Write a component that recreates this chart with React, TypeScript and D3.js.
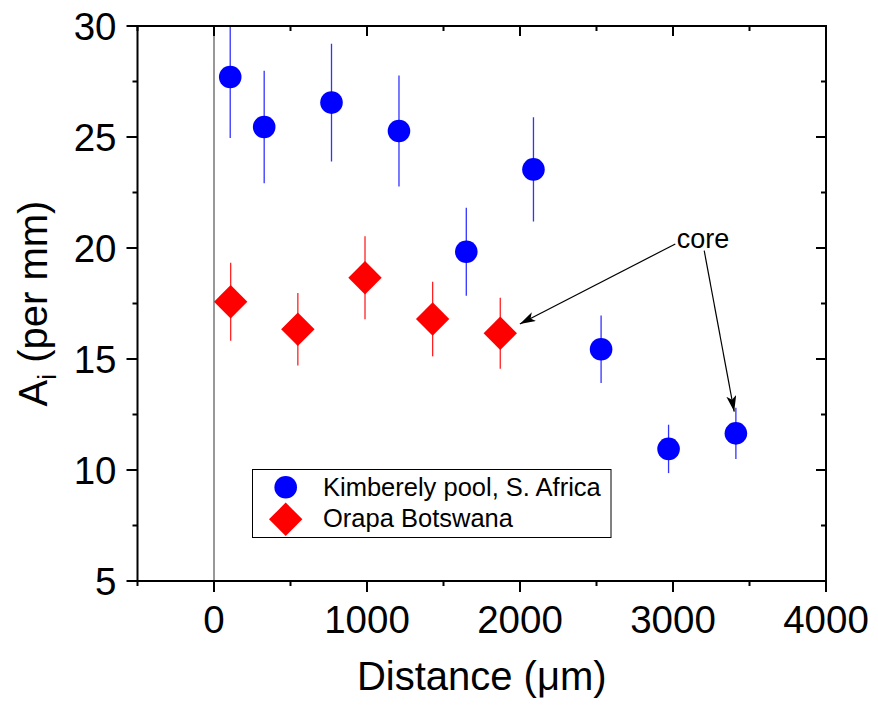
import React, { useEffect, useRef } from 'react';
import * as d3 from 'd3';

// distance (um), A_i (per mm), error
const kimX = [106, 328, 768, 1209, 1649, 2088, 2530, 2971, 3411];
const kimY = [27.7, 25.45, 26.55, 25.27, 19.83, 23.54, 15.44, 10.95, 11.65];
const kimErr = [2.75, 2.53, 2.65, 2.5, 1.98, 2.35, 1.52, 1.09, 1.15];

const oraX = [109, 548, 987, 1429, 1871];
const oraY = [17.58, 16.34, 18.66, 16.8, 16.16];
const oraErr = [1.76, 1.63, 1.87, 1.68, 1.6];

const xTicks = [0, 1000, 2000, 3000, 4000];
const yTicks = [5, 10, 15, 20, 25, 30];

// "core" annotation: label anchor and arrow ends, in data units
const coreLabel = { x: 3025, y: 20.0 };
const coreArrows = [
  { x1: 3015, y1: 20.18, x2: 1999, y2: 16.58 },
  { x1: 3204, y1: 19.88, x2: 3400, y2: 12.63 },
];

const FONT = "'Liberation Sans', Arial, Helvetica, sans-serif";

const App = () => {
  const svgRef = useRef<SVGSVGElement>(null);

  useEffect(() => {
    const width = 878;
    const height = 705;
    const margin = { top: 26, right: 52, bottom: 124, left: 137.5 };
    const svg = d3.select(svgRef.current);
    svg.selectAll('*').remove();
    svg.attr('width', width).attr('height', height);

    const x = d3.scaleLinear().domain([-500, 4000]).range([margin.left, width - margin.right]);
    const y = d3.scaleLinear().domain([5, 30]).range([height - margin.bottom, margin.top]);
    const [x0, x1] = x.range();
    const [yb, yt] = y.range();

    svg.append('defs').append('clipPath').attr('id', 'plotclip')
      .append('rect').attr('x', x0).attr('y', yt).attr('width', x1 - x0).attr('height', yb - yt);
    svg.select('defs').append('marker')
      .attr('id', 'arrowhead')
      .attr('viewBox', '0 0 16 10')
      .attr('refX', 16).attr('refY', 5)
      .attr('markerWidth', 16).attr('markerHeight', 10)
      .attr('markerUnits', 'userSpaceOnUse')
      .attr('orient', 'auto')
      .append('path').attr('d', 'M0,0 L16,5 L0,10 L4,5 Z').attr('fill', '#000');

    const plot = svg.append('g').attr('clip-path', 'url(#plotclip)');

    // zero line
    plot.append('line')
      .attr('x1', x(0)).attr('x2', x(0)).attr('y1', yt).attr('y2', yb)
      .attr('stroke', '#333').attr('stroke-width', 1);

    // error bars
    const kim = kimX.map((d, i) => ({ x: d, y: kimY[i], e: kimErr[i] }));
    const ora = oraX.map((d, i) => ({ x: d, y: oraY[i], e: oraErr[i] }));

    plot.selectAll('.kerr').data(kim).enter().append('line')
      .attr('x1', d => x(d.x)).attr('x2', d => x(d.x))
      .attr('y1', d => y(d.y + d.e)).attr('y2', d => y(d.y - d.e))
      .attr('stroke', '#3333ff').attr('stroke-width', 1.3);
    plot.selectAll('.oerr').data(ora).enter().append('line')
      .attr('x1', d => x(d.x)).attr('x2', d => x(d.x))
      .attr('y1', d => y(d.y + d.e)).attr('y2', d => y(d.y - d.e))
      .attr('stroke', '#ff2222').attr('stroke-width', 1.3);

    const diamond = d3.symbol().type(d3.symbolSquare).size(557);

    plot.selectAll('.kdot').data(kim).enter().append('circle')
      .attr('cx', d => x(d.x)).attr('cy', d => y(d.y)).attr('r', 11.3)
      .attr('fill', '#0000ff');
    plot.selectAll('.odot').data(ora).enter().append('path')
      .attr('d', diamond())
      .attr('transform', d => `translate(${x(d.x)},${y(d.y)}) rotate(45)`)
      .attr('fill', '#ff0000');

    // frame
    svg.append('rect')
      .attr('x', x0).attr('y', yt).attr('width', x1 - x0).attr('height', yb - yt)
      .attr('fill', 'none').attr('stroke', '#000').attr('stroke-width', 2);

    const ticks = svg.append('g').attr('stroke', '#000').attr('stroke-width', 2);
    const xMinor = d3.range(-500, 4001, 500).filter(v => !xTicks.includes(v));
    const yMinor = d3.range(7.5, 30, 5);

    // bottom (outward) and top (inward)
    xTicks.forEach(v => {
      ticks.append('line').attr('x1', x(v)).attr('x2', x(v)).attr('y1', yb).attr('y2', yb + 11);
      ticks.append('line').attr('x1', x(v)).attr('x2', x(v)).attr('y1', yt).attr('y2', yt + 10);
    });
    xMinor.forEach(v => {
      ticks.append('line').attr('x1', x(v)).attr('x2', x(v)).attr('y1', yb).attr('y2', yb + 5);
      ticks.append('line').attr('x1', x(v)).attr('x2', x(v)).attr('y1', yt).attr('y2', yt + 5);
    });
    // left (outward) and right (inward)
    yTicks.forEach(v => {
      ticks.append('line').attr('y1', y(v)).attr('y2', y(v)).attr('x1', x0).attr('x2', x0 - 11);
      ticks.append('line').attr('y1', y(v)).attr('y2', y(v)).attr('x1', x1).attr('x2', x1 - 10);
    });
    yMinor.forEach(v => {
      ticks.append('line').attr('y1', y(v)).attr('y2', y(v)).attr('x1', x0).attr('x2', x0 - 5);
      ticks.append('line').attr('y1', y(v)).attr('y2', y(v)).attr('x1', x1).attr('x2', x1 - 5);
    });

    // tick labels
    svg.selectAll('.xl').data(xTicks).enter().append('text')
      .attr('x', d => x(d)).attr('y', yb + 52)
      .attr('text-anchor', 'middle')
      .style('font-family', FONT).style('font-size', '38.5px')
      .text(d => String(d));
    svg.selectAll('.yl').data(yTicks).enter().append('text')
      .attr('x', x0 - 21).attr('y', d => y(d) + 14)
      .attr('text-anchor', 'end')
      .style('font-family', FONT).style('font-size', '38.5px')
      .text(d => String(d));

    // axis titles
    svg.append('text')
      .attr('x', (x0 + x1) / 2).attr('y', 690)
      .attr('text-anchor', 'middle')
      .style('font-family', FONT).style('font-size', '40px')
      .text('Distance (\u03bcm)');

    const yl = svg.append('text')
      .attr('transform', `translate(47,${(yt + yb) / 2}) rotate(-90)`)
      .attr('text-anchor', 'middle')
      .style('font-family', FONT).style('font-size', '40px');
    yl.append('tspan').text('A');
    yl.append('tspan').attr('dy', 9).style('font-size', '26px').text('i');
    yl.append('tspan').attr('dy', -9).text(' (per mm)');

    // core annotation
    svg.selectAll('.arr').data(coreArrows).enter().append('line')
      .attr('x1', d => x(d.x1)).attr('y1', d => y(d.y1))
      .attr('x2', d => x(d.x2)).attr('y2', d => y(d.y2))
      .attr('stroke', '#000').attr('stroke-width', 1.2)
      .attr('marker-end', 'url(#arrowhead)');
    svg.append('text')
      .attr('x', x(coreLabel.x)).attr('y', y(coreLabel.y))
      .style('font-family', FONT).style('font-size', '27px')
      .text('core');

    // legend
    const lg = svg.append('g');
    lg.append('rect')
      .attr('x', 252.5).attr('y', 469.5).attr('width', 358.5).attr('height', 68)
      .attr('fill', '#fff').attr('stroke', '#000').attr('stroke-width', 1);
    lg.append('circle').attr('cx', 285.7).attr('cy', 487.3).attr('r', 11.3).attr('fill', '#0000ff');
    lg.append('path').attr('d', diamond())
      .attr('transform', 'translate(285.7,519.3) rotate(45)').attr('fill', '#ff0000');
    lg.append('text').attr('x', 323).attr('y', 496)
      .style('font-family', FONT).style('font-size', '25.5px')
      .text('Kimberely pool, S. Africa');
    lg.append('text').attr('x', 323).attr('y', 527)
      .style('font-family', FONT).style('font-size', '25.5px')
      .text('Orapa Botswana');
  }, []);

  return (
    <div>
      <svg ref={svgRef} style={{ position: 'absolute', left: 0, top: 0 }}></svg>
    </div>
  );
};

export default App;
